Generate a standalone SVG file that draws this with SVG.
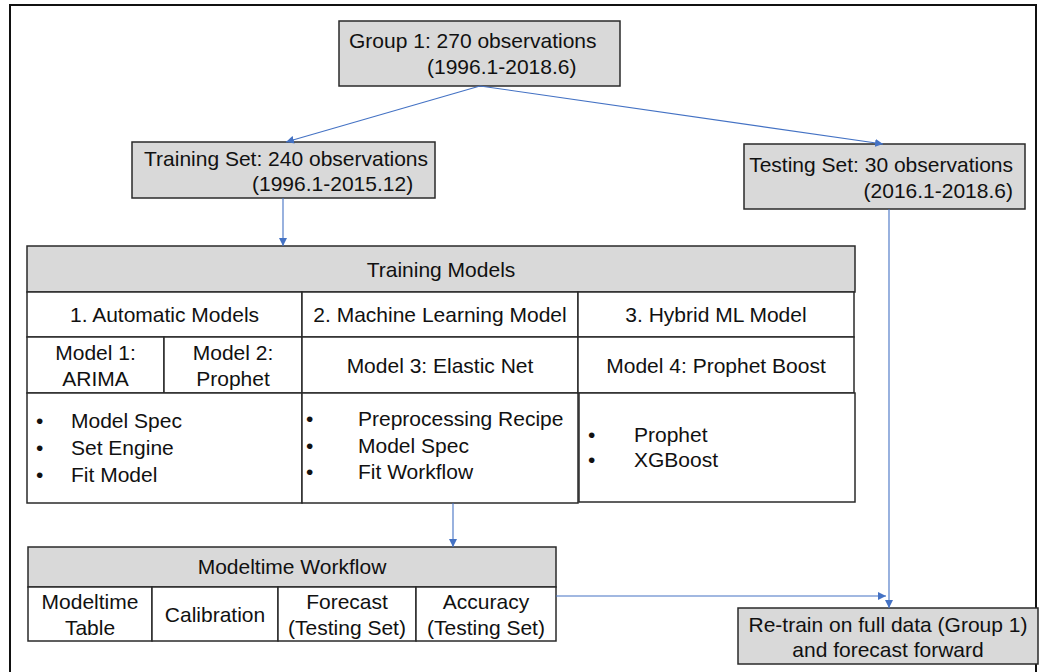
<svg xmlns="http://www.w3.org/2000/svg" width="1042" height="672" viewBox="0 0 1042 672">
  <style>
    text { font-family: "Liberation Sans", Arial, sans-serif; font-size: 21px; fill: #111; }
    .box { fill: #d9d9d9; stroke: #2a2a2a; stroke-width: 1.5; }
    .cell { fill: #ffffff; stroke: #2a2a2a; stroke-width: 1.5; }
    .mid { text-anchor: middle; }
    .end { text-anchor: end; }
    .link { fill: none; stroke: #4472c4; stroke-width: 1.1; marker-end: url(#arrow); }
    .plain { fill: none; stroke: #4472c4; stroke-width: 1.1; }
  </style>
  <defs>
    <marker id="arrow" viewBox="0 0 10 10" refX="10" refY="5" markerWidth="8" markerHeight="8" markerUnits="userSpaceOnUse" orient="auto">
      <path d="M0,0 L10,5 L0,10 z" fill="#4472c4"/>
    </marker>
  </defs>

  <rect width="1042" height="672" fill="#ffffff"/>
  <!-- outer frame -->
  <rect x="10" y="5" width="1026" height="700" fill="none" stroke="#111" stroke-width="2"/>

  <g id="group1">
    <rect class="box" x="339" y="21" width="281" height="65"/>
    <text x="349" y="48">Group 1: 270 observations</text>
    <text x="427" y="74">(1996.1-2018.6)</text>
  </g>

  <g id="training-set">
    <rect class="box" x="132" y="142" width="303" height="56"/>
    <text x="144" y="166">Training Set: 240 observations</text>
    <text x="252" y="191">(1996.1-2015.12)</text>
  </g>

  <g id="testing-set">
    <rect class="box" x="744" y="144" width="281" height="65"/>
    <text class="end" x="1013" y="172">Testing Set: 30 observations</text>
    <text class="end" x="1013" y="198">(2016.1-2018.6)</text>
  </g>

  <g id="training-models">
    <rect class="box" x="27" y="246" width="828" height="46"/>
    <text class="mid" x="441" y="277">Training Models</text>

    <g id="automatic-models">
      <rect class="cell" x="27" y="292" width="275" height="45"/>
      <text class="mid" x="164.5" y="322">1. Automatic Models</text>
      <rect class="cell" x="27" y="337" width="137" height="56"/>
      <text class="mid" x="95.5" y="360">Model 1:</text>
      <text class="mid" x="95.5" y="386">ARIMA</text>
      <rect class="cell" x="164" y="337" width="138" height="56"/>
      <text class="mid" x="233" y="360">Model 2:</text>
      <text class="mid" x="233" y="386">Prophet</text>
      <rect class="cell" x="27" y="393" width="275" height="110"/>
      <text x="36" y="428">•</text><text x="71" y="428">Model Spec</text>
      <text x="36" y="455">•</text><text x="71" y="455">Set Engine</text>
      <text x="36" y="482">•</text><text x="71" y="482">Fit Model</text>
    </g>

    <g id="machine-learning-model">
      <rect class="cell" x="302" y="292" width="276" height="45"/>
      <text class="mid" x="440" y="322">2. Machine Learning Model</text>
      <rect class="cell" x="302" y="337" width="276" height="56"/>
      <text class="mid" x="440" y="373">Model 3: Elastic Net</text>
      <rect class="cell" x="302" y="393" width="276" height="110"/>
      <text x="306" y="426">•</text><text x="358" y="426">Preprocessing Recipe</text>
      <text x="306" y="453">•</text><text x="358" y="453">Model Spec</text>
      <text x="306" y="479">•</text><text x="358" y="479">Fit Workflow</text>
    </g>

    <g id="hybrid-ml-model">
      <rect class="cell" x="578" y="292" width="276" height="45"/>
      <text class="mid" x="716" y="322">3. Hybrid ML Model</text>
      <rect class="cell" x="578" y="337" width="276" height="56"/>
      <text class="mid" x="716" y="373">Model 4: Prophet Boost</text>
      <rect class="cell" x="579" y="393" width="276" height="109"/>
      <text x="588" y="442">•</text><text x="634" y="442">Prophet</text>
      <text x="588" y="467">•</text><text x="634" y="467">XGBoost</text>
    </g>
  </g>

  <g id="modeltime-workflow">
    <rect class="box" x="28" y="547" width="528" height="40"/>
    <text class="mid" x="292" y="574">Modeltime Workflow</text>
    <rect class="cell" x="28" y="587" width="124" height="54"/>
    <text class="mid" x="90" y="609">Modeltime</text>
    <text class="mid" x="90" y="635">Table</text>
    <rect class="cell" x="152" y="587" width="126" height="54"/>
    <text class="mid" x="215" y="622">Calibration</text>
    <rect class="cell" x="278" y="587" width="138" height="54"/>
    <text class="mid" x="347" y="609">Forecast</text>
    <text class="mid" x="347" y="635">(Testing Set)</text>
    <rect class="cell" x="416" y="587" width="140" height="54"/>
    <text class="mid" x="486" y="609">Accuracy</text>
    <text class="mid" x="486" y="635">(Testing Set)</text>
  </g>

  <g id="retrain">
    <rect class="box" x="738" y="608" width="300" height="56"/>
    <text class="mid" x="888" y="632">Re-train on full data (Group 1)</text>
    <text class="mid" x="888" y="657">and forecast forward</text>
  </g>

  <g id="connectors">
    <line class="link" x1="480" y1="86" x2="286" y2="142"/>
    <line class="link" x1="480" y1="86" x2="883" y2="144"/>
    <line class="link" x1="283" y1="198" x2="283" y2="246"/>
    <line class="link" x1="889" y1="209" x2="889" y2="608"/>
    <line class="link" x1="453" y1="503" x2="453" y2="547"/>
    <line class="link" x1="556" y1="596" x2="886" y2="596"/>
  </g>
</svg>
